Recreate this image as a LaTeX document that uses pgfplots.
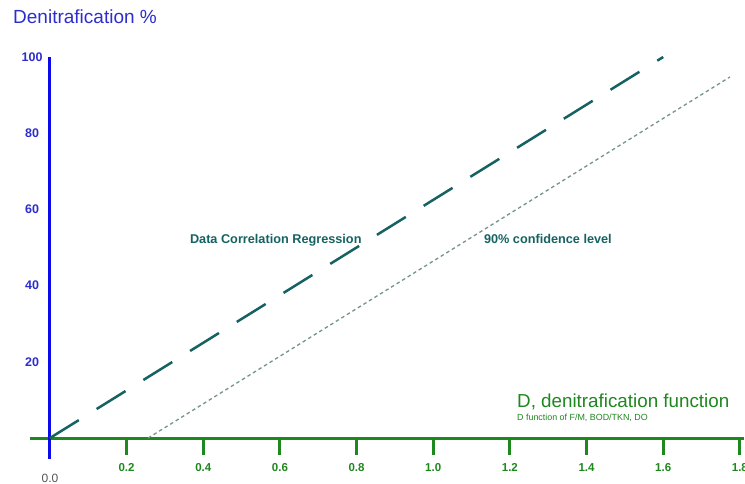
\documentclass[border=0pt]{standalone}
\usepackage{pgfplots}
\pgfplotsset{compat=1.18}
\usepackage{fontspec}
\setmainfont{Liberation Sans}

\definecolor{axblue}{RGB}{10,10,235}
\definecolor{lblblue}{RGB}{45,45,205}
\definecolor{axgreen}{RGB}{30,135,30}
\definecolor{regteal}{RGB}{22,98,98}
\definecolor{conflight}{RGB}{115,148,138}
\definecolor{zerogray}{RGB}{85,85,85}

\begin{document}
\begin{tikzpicture}
\useasboundingbox (0,0) rectangle (745pt,483pt);
\begin{axis}[
  scale only axis,
  width=713.7pt, height=402pt,
  at={(30pt,24pt)}, anchor=south west,
  xmin=-0.052, xmax=1.81, ymin=-5.5, ymax=100,
  axis x line=middle, axis y line=middle,
  x axis line style={-, draw=axgreen, line width=3pt},
  y axis line style={-, draw=axblue, line width=3pt},
  xtick={0.2,0.4,0.6,0.8,1.0,1.2,1.4,1.6,1.8},
  xticklabels={0.2,0.4,0.6,0.8,1.0,1.2,1.4,1.6,1.8},
  ytick={20,40,60,80,100},
  yticklabels={20,40,60,80,100},
  tick align=outside, major tick length=17pt,
  xtick style={draw=axgreen, line width=3pt},
  ytick style={draw=none},
  xticklabel style={font=\fontsize{11.5}{13}\selectfont\bfseries, text=axgreen, yshift=-5pt},
  yticklabel style={font=\fontsize{12.5}{14}\selectfont\bfseries, text=lblblue, anchor=center, xshift=-0.8pt},
  clip=false,
]
% regression line
\addplot[regteal, line width=2.5pt, dash pattern=on 34pt off 21pt] coordinates {(0,0) (1.6,100)};
% 90% confidence line
\addplot[conflight, line width=1.3pt, dash pattern=on 3.5pt off 3pt] coordinates {(0.256,0) (1.774,94.75)};

\node[anchor=base west, font=\fontsize{12.7}{14}\selectfont\bfseries, text=regteal, inner sep=0pt]
  at (axis cs:0.365,51.1) {Data Correlation Regression};
\node[anchor=base west, font=\fontsize{12.7}{14}\selectfont\bfseries, text=regteal, inner sep=0pt]
  at (axis cs:1.132,51.1) {90\% confidence level};
\node[font=\fontsize{12}{14}\selectfont, text=zerogray] at (axis cs:0,0) [yshift=-40pt] {0.0};
\end{axis}
\node[anchor=base west, inner sep=0pt, font=\fontsize{19}{22}\selectfont, text=lblblue] at (13pt,459pt) {Denitrafication \%};
\node[anchor=base west, inner sep=0pt, font=\fontsize{18.8}{22}\selectfont, text=axgreen] at (517pt,76pt) {D, denitrafication function};
\node[anchor=base west, inner sep=0pt, font=\fontsize{8.9}{10}\selectfont, text=axgreen] at (517pt,63pt) {D function of F/M, BOD/TKN, DO};
\end{tikzpicture}
\end{document}
